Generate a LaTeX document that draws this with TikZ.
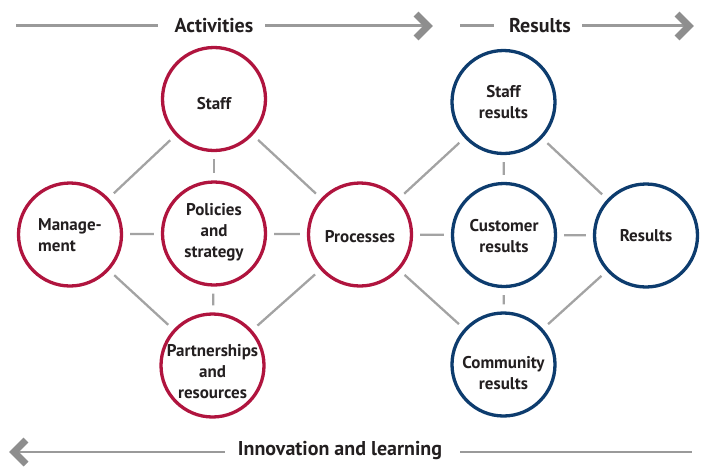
\documentclass[tikz,border=0pt]{standalone}
\usepackage{fontspec}
\setmainfont{PT Sans}
\definecolor{actred}{HTML}{B0143E}
\definecolor{resblue}{HTML}{0D3C6E}
\definecolor{linkgray}{HTML}{A3A3A3}
\definecolor{rulegray}{HTML}{9A9A9A}
\definecolor{tipgray}{HTML}{8E8E8E}
\definecolor{inkdark}{HTML}{231F20}
\begin{document}
\begin{tikzpicture}[x=1pt,y=-1pt,
  hub/.style={circle,draw,line width=3.3pt,minimum size=103pt,inner sep=0pt,fill=white},
  act/.style={hub,draw=actred},
  res/.style={hub,draw=resblue},
  hubtext/.style={align=center,inner sep=0pt,text=inkdark,
    font=\bfseries\fontsize{17}{21}\selectfont},
  link/.style={draw=linkgray,line width=2.3pt,shorten <=7pt,shorten >=7pt},
  rule/.style={draw=rulegray,line width=2.3pt},
  chev/.style={draw=tipgray,line width=7pt,miter limit=10},
  head/.style={font=\bfseries\fontsize{20}{22}\selectfont,text=inkdark,inner sep=0pt}]
\useasboundingbox (0,0) rectangle (708,466);

% activity circles
\node[act] (staff) at (214,99) {};
\node[act] (mgmt) at (70,234.5) {};
\node[act] (policy) at (214,233.5) {};
\node[act] (partner) at (212.5,365.5) {};
\node[act] (proc) at (360,234.5) {};

% result circles
\node[res] (sres) at (503.5,102) {};
\node[res] (cres) at (504,235) {};
\node[res] (comres) at (503.5,364.5) {};
\node[res] (results) at (646,235.5) {};

% circle captions
\node[hubtext] (staff-t) at ([yshift=-5pt]staff.center) {Staff};
\node[hubtext,align=left] (mgmt-t) at ([yshift=-1pt]mgmt.center) {Manage-\\ment};
\node[hubtext] (policy-t) at ([yshift=1.5pt]policy.center) {Policies\\and\\strategy};
\node[hubtext] (partner-t) at ([yshift=-6pt]partner.center) {Partnerships\\and\\resources};
\node[hubtext] (proc-t) at ([yshift=-2pt]proc.center) {Processes};
\node[hubtext] (sres-t) at (sres.center) {Staff\\results};
\node[hubtext] (cres-t) at ([yshift=-1pt]cres.center) {Customer\\results};
\node[hubtext] (comres-t) at ([yshift=-9pt]comres.center) {Community\\results};
\node[hubtext] (results-t) at (results.center) {Results};

% links between circles
\foreach \a/\b in {mgmt/staff,staff/policy,staff/proc,mgmt/policy,mgmt/partner,
  policy/proc,policy/partner,partner/proc,proc/sres,proc/cres,proc/comres,
  sres/cres,sres/results,cres/results,cres/comres,comres/results}
  \draw[link] (\a) -- (\b);

% top heading rule: Activities
\node[head] (hact) at (214,26) {Activities};
\coordinate (t1a) at (16,25.5);
\coordinate (t1b) at (158,25.5);
\coordinate (t2a) at (265,25.5);
\coordinate (t2b) at (430,25.5);
\draw[rule] (t1a) -- (t1b);
\draw[rule] (t2a) -- (t2b);
\coordinate (c1a) at (416,14);
\coordinate (c1t) at (428,26);
\coordinate (c1b) at (416,38);
\draw[chev] (c1a) -- (c1t) -- (c1b);

% top heading rule: Results
\node[head] (hres) at (540,26) {Results};
\coordinate (t3a) at (460,25.5);
\coordinate (t3b) at (494,25.5);
\coordinate (t4a) at (582,25.5);
\coordinate (t4b) at (689,25.5);
\draw[rule] (t3a) -- (t3b);
\draw[rule] (t4a) -- (t4b);
\coordinate (c2a) at (677,14);
\coordinate (c2t) at (689,26);
\coordinate (c2b) at (677,38);
\draw[chev] (c2a) -- (c2t) -- (c2b);

% bottom rule: Innovation and learning
\node[head] (hinn) at (340,451) {Innovation and learning};
\coordinate (b1a) at (14,452);
\coordinate (b1b) at (225,452);
\coordinate (b2a) at (460,452);
\coordinate (b2b) at (692,452);
\draw[rule] (b1a) -- (b1b);
\draw[rule] (b2a) -- (b2b);
\coordinate (c3a) at (26,440);
\coordinate (c3t) at (14,452);
\coordinate (c3b) at (26,464);
\draw[chev] (c3a) -- (c3t) -- (c3b);
\end{tikzpicture}
\end{document}
